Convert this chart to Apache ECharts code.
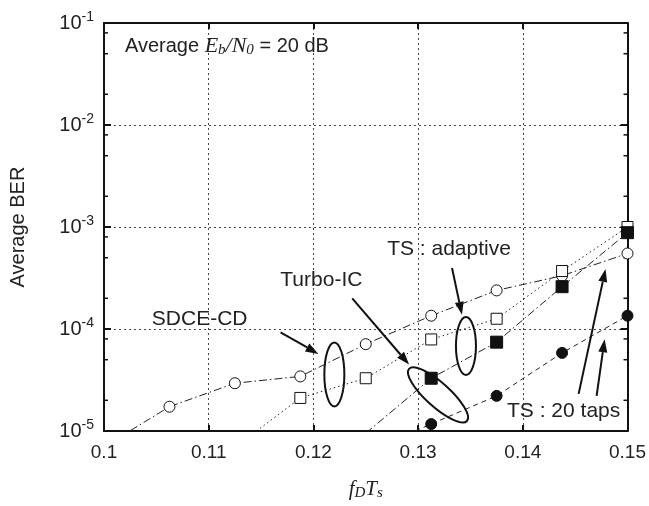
<!DOCTYPE html>
<html>
<head>
<meta charset="utf-8">
<script src="https://cdn.jsdelivr.net/npm/echarts@6/dist/echarts.min.js"></script>
<style>
  html, body { margin: 0; padding: 0; background: #fff; }
  #chart { width: 649px; height: 506px; }
</style>
</head>
<body>
<div id="chart"></div>
<script>
// f_D T_s values (x positions of the simulated points)
var fdts = [0.1, 0.10625, 0.1125, 0.11875, 0.125, 0.13125, 0.1375, 0.14375, 0.15];

// average BER (null = no point)
var sdceTs20      = [7.0e-6, 1.73e-5, 2.94e-5, 3.43e-5, 7.1e-5, 1.35e-4, 2.39e-4, 3.33e-4, 5.5e-4];
var sdceAdaptive  = [null, null, 6.9e-6, 2.11e-5, 3.29e-5, 7.9e-5, 1.26e-4, 3.7e-4, 1.0e-3];
var turboAdaptive = [null, null, null, null, 9.5e-6, 3.29e-5, 7.43e-5, 2.6e-4, 8.8e-4];
var turboTs20     = [null, null, null, null, 6.2e-6, 1.17e-5, 2.21e-5, 5.83e-5, 1.35e-4];

var xTickLabels = ['0.1', '0.11', '0.12', '0.13', '0.14', '0.15'];
var minorMant = [2, 5, 8];

var font = '"Liberation Sans", Arial, Helvetica, sans-serif';
var serif = '"Liberation Serif", "Times New Roman", serif';

function pairs(ys) {
    var out = [];
    for (var i = 0; i < fdts.length; i++) {
        if (ys[i] != null) out.push([fdts[i], ys[i]]);
    }
    return out;
}

var myChart = echarts.init(document.getElementById('chart'));

var gridDotted = { show: true, lineStyle: { color: '#444', width: 1, type: [2, 3] } };
var axisLineStyle = { show: true, lineStyle: { color: '#111', width: 2 } };

function mkSeries(name, ys, symbol, size, filled, dash) {
    return {
        name: name,
        type: 'line',
        data: pairs(ys),
        symbol: symbol,
        symbolSize: size,
        showAllSymbol: true,
        clip: true,
        itemStyle: {
            color: filled ? '#111' : '#fff',
            borderColor: '#111',
            borderWidth: 1
        },
        lineStyle: { color: '#222', width: 1, type: dash },
        emphasis: { disabled: true },
        z: filled ? 3 : 2
    };
}

myChart.setOption({
    animation: false,
    backgroundColor: '#fff',
    grid: { left: 104, right: 20, top: 23, bottom: 65 },
    xAxis: [{
        type: 'value',
        min: 0.1,
        max: 0.15,
        interval: 0.01,
        position: 'bottom',
        axisLine: axisLineStyle,
        axisTick: { show: true, inside: true, length: 6, lineStyle: { color: '#111', width: 2 } },
        splitLine: gridDotted,
        axisLabel: {
            color: '#222',
            fontSize: 19,
            fontFamily: font,
            margin: 12,
            formatter: function (v) {
                var i = Math.round((v - 0.1) / 0.01);
                return xTickLabels[i];
            }
        },
        name: '{i|f}{s|D}{i|T}{s|s}',
        nameLocation: 'middle',
        nameGap: 47,
        nameTextStyle: {
            rich: {
                i: { fontFamily: serif, fontStyle: 'italic', fontSize: 21, color: '#222' },
                s: { fontFamily: serif, fontStyle: 'italic', fontSize: 15, color: '#222', padding: [8, 0, 0, 0] }
            }
        }
    }, {
        type: 'value',
        min: 0.1,
        max: 0.15,
        interval: 0.01,
        position: 'top',
        axisLine: axisLineStyle,
        axisTick: { show: true, inside: true, length: 6, lineStyle: { color: '#111', width: 2 } },
        splitLine: { show: false },
        axisLabel: { show: false }
    }],
    yAxis: [{
        type: 'log',
        logBase: 10,
        min: 1e-5,
        max: 1e-1,
        position: 'left',
        axisLine: axisLineStyle,
        axisTick: { show: true, inside: true, length: 7, lineStyle: { color: '#111', width: 2 } },
        splitLine: gridDotted,
        axisLabel: {
            margin: 10,
            formatter: function (v) {
                return '{a|10}{b|' + Math.round(Math.log10(v)) + '}';
            },
            rich: {
                a: { fontSize: 20, fontFamily: font, color: '#222' },
                b: { fontSize: 14, fontFamily: font, color: '#222', padding: [0, 0, 12, 0] }
            }
        },
        name: 'Average BER',
        nameLocation: 'middle',
        nameGap: 76,
        nameTextStyle: { fontSize: 20, fontFamily: font, color: '#222' }
    }, {
        type: 'log',
        logBase: 10,
        min: 1e-5,
        max: 1e-1,
        position: 'right',
        axisLine: axisLineStyle,
        axisTick: { show: true, inside: true, length: 7, lineStyle: { color: '#111', width: 2 } },
        splitLine: { show: false },
        axisLabel: { show: false }
    }],
    series: [
        mkSeries('SDCE-CD, TS : 20 taps', sdceTs20, 'circle', 11, false, [8, 3, 1.5, 3]),
        mkSeries('SDCE-CD, TS : adaptive', sdceAdaptive, 'rect', 11, false, [1.5, 3]),
        mkSeries('Turbo-IC, TS : adaptive', turboAdaptive, 'rect', 12, true, [8, 3, 1.5, 3]),
        mkSeries('Turbo-IC, TS : 20 taps', turboTs20, 'circle', 11, true, [5, 4])
    ]
});

// annotations, placed in data coordinates [fDTs, BER]
var labels = [
    { text: 'SDCE-CD', at: [0.10914, 1.26e-4] },
    { text: 'Turbo-IC', at: [0.12076, Math.pow(10, -3.526)] },
    { text: 'TS : adaptive', at: [0.13295, Math.pow(10, -3.220)] },
    { text: 'TS : 20 taps', at: [0.14390, Math.pow(10, -4.809)] }
];
var arrows = [
    [[0.11686, Math.pow(10, -4.033)], [0.12048, Math.pow(10, -4.244)]],
    [[0.12371, Math.pow(10, -3.699)], [0.12914, Math.pow(10, -4.349)]],
    [[0.13324, Math.pow(10, -3.402)], [0.13419, Math.pow(10, -3.861)]],
    [[0.14533, Math.pow(10, -4.636)], [0.14790, Math.pow(10, -3.411)]],
    [[0.14705, Math.pow(10, -4.656)], [0.14781, Math.pow(10, -4.100)]]
];
var ellipses = [
    { at: [0.12200, Math.pow(10, -4.445)], rx: 10, ry: 32, rot: 0 },
    { at: [0.13190, Math.pow(10, -4.646)], rx: 39, ry: 12, rot: -42 },
    { at: [0.13457, Math.pow(10, -4.167)], rx: 10, ry: 29, rot: 0 }
];

function px(p) {
    return myChart.convertToPixel({ xAxisIndex: 0, yAxisIndex: 0 }, p);
}

var g = [];
var ink = '#111';

// minor log ticks on left and right axes
var rect = myChart.getModel().getComponent('grid').coordinateSystem.getRect();
for (var e = -5; e < -1; e++) {
    minorMant.forEach(function (m) {
        var y = px([0.1, m * Math.pow(10, e)])[1];
        g.push({ type: 'line', shape: { x1: rect.x, y1: y, x2: rect.x + 4, y2: y }, style: { stroke: ink, lineWidth: 1.5 }, silent: true });
        g.push({ type: 'line', shape: { x1: rect.x + rect.width - 4, y1: y, x2: rect.x + rect.width, y2: y }, style: { stroke: ink, lineWidth: 1.5 }, silent: true });
    });
}

labels.forEach(function (l) {
    var p = px(l.at);
    g.push({
        type: 'text', x: p[0], y: p[1], z: 10,
        style: { text: l.text, fontSize: 21, fontFamily: font, fill: '#222', align: 'center', verticalAlign: 'middle' }
    });
});

arrows.forEach(function (a) {
    var p0 = px(a[0]), p1 = px(a[1]);
    var dx = p1[0] - p0[0], dy = p1[1] - p0[1];
    var len = Math.sqrt(dx * dx + dy * dy);
    var ux = dx / len, uy = dy / len;
    var hl = 13, hw = 4.5;
    var bx = p1[0] - ux * hl, by = p1[1] - uy * hl;
    g.push({ type: 'line', z: 10, shape: { x1: p0[0], y1: p0[1], x2: bx, y2: by }, style: { stroke: ink, lineWidth: 2 } });
    g.push({
        type: 'polygon', z: 10,
        shape: { points: [[p1[0], p1[1]], [bx - uy * hw, by + ux * hw], [bx + uy * hw, by - ux * hw]] },
        style: { fill: ink }
    });
});

ellipses.forEach(function (el) {
    var p = px(el.at);
    g.push({
        type: 'ellipse', z: 10, x: p[0], y: p[1], rotation: el.rot * Math.PI / 180,
        shape: { cx: 0, cy: 0, rx: el.rx, ry: el.ry },
        style: { fill: 'none', stroke: ink, lineWidth: 2 }
    });
});

// header text: Average E_b/N_0 = 20 dB
var hp = px([0.1020, Math.pow(10, -1.230)]);
g.push({
    type: 'text', x: hp[0], y: hp[1], z: 10,
    style: {
        text: '{a|Average }{i|E}{s|b}{i|/N}{s|0}{a| = 20 dB}',
        verticalAlign: 'middle',
        rich: {
            a: { fontSize: 20, fontFamily: font, fill: '#222' },
            i: { fontSize: 22, fontFamily: serif, fontStyle: 'italic', fill: '#222' },
            s: { fontSize: 15, fontFamily: serif, fontStyle: 'italic', fill: '#222', padding: [8, 0, 0, 0] }
        }
    }
});

myChart.setOption({ graphic: g });
</script>
</body>
</html>
